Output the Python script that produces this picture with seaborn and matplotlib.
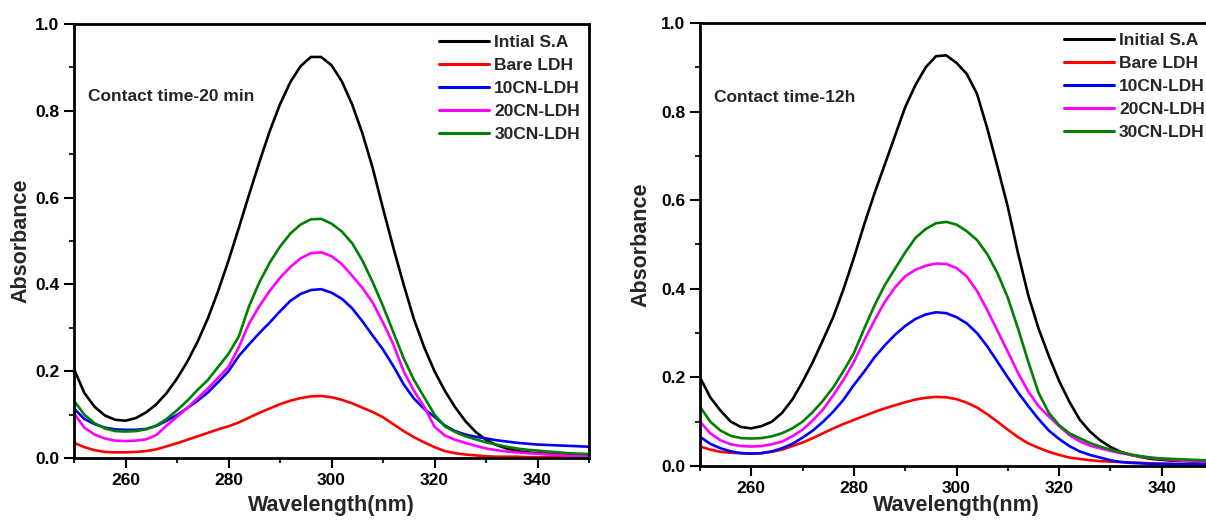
import numpy as np
import pandas as pd
import matplotlib
matplotlib.use("Agg")
import matplotlib.pyplot as plt
from matplotlib.ticker import MultipleLocator, FixedLocator
import seaborn as sns

sns.set_style("ticks")
plt.rcParams['font.family'] = ['Liberation Sans', 'DejaVu Sans']
plt.rcParams['font.weight'] = 'bold'
plt.rcParams['axes.labelweight'] = 'bold'

wavelength = np.arange(250, 352, 2)

# ---- Panel 1: contact time 20 min ----
left_initial = [0.205, 0.150, 0.118, 0.098, 0.088, 0.086, 0.092, 0.105, 0.124, 0.150,
                0.183, 0.222, 0.268, 0.322, 0.385, 0.455, 0.530, 0.607, 0.682, 0.753,
                0.815, 0.866, 0.903, 0.924, 0.924, 0.905, 0.868, 0.815, 0.748, 0.668,
                0.575, 0.485, 0.400, 0.320, 0.255, 0.200, 0.155, 0.117, 0.085, 0.060,
                0.042, 0.030, 0.022, 0.016, 0.013, 0.011, 0.010, 0.009, 0.009, 0.008,
                0.008]
left_bare = [0.035, 0.025, 0.018, 0.014, 0.013, 0.013, 0.014, 0.016, 0.020, 0.027,
             0.034, 0.042, 0.050, 0.058, 0.066, 0.073, 0.082, 0.093, 0.104, 0.114,
             0.124, 0.132, 0.138, 0.142, 0.143, 0.140, 0.134, 0.126, 0.116, 0.106,
             0.094, 0.078, 0.062, 0.048, 0.036, 0.025, 0.016, 0.011, 0.008, 0.006,
             0.004, 0.003, 0.003, 0.003, 0.002, 0.002, 0.002, 0.002, 0.002, 0.002,
             0.002]
left_10cn = [0.114, 0.090, 0.078, 0.070, 0.066, 0.065, 0.065, 0.067, 0.074, 0.086,
             0.099, 0.115, 0.132, 0.151, 0.175, 0.200, 0.235, 0.262, 0.288, 0.312,
             0.338, 0.362, 0.378, 0.387, 0.389, 0.381, 0.367, 0.345, 0.315, 0.282,
             0.250, 0.212, 0.170, 0.137, 0.113, 0.095, 0.075, 0.062, 0.054, 0.049,
             0.045, 0.041, 0.038, 0.035, 0.033, 0.031, 0.030, 0.029, 0.028, 0.027,
             0.026]
left_20cn = [0.103, 0.070, 0.054, 0.045, 0.040, 0.039, 0.040, 0.043, 0.053, 0.075,
             0.095, 0.115, 0.138, 0.160, 0.185, 0.210, 0.255, 0.310, 0.350, 0.385,
             0.415, 0.440, 0.460, 0.472, 0.474, 0.465, 0.447, 0.420, 0.392, 0.358,
             0.312, 0.262, 0.200, 0.155, 0.118, 0.072, 0.052, 0.042, 0.035, 0.028,
             0.022, 0.018, 0.015, 0.013, 0.011, 0.010, 0.008, 0.007, 0.005, 0.004,
             0.003]
left_30cn = [0.132, 0.100, 0.080, 0.068, 0.062, 0.061, 0.062, 0.066, 0.075, 0.090,
             0.110, 0.132, 0.157, 0.180, 0.210, 0.240, 0.280, 0.350, 0.405, 0.450,
             0.487, 0.517, 0.538, 0.550, 0.551, 0.540, 0.522, 0.495, 0.455, 0.405,
             0.350, 0.290, 0.230, 0.180, 0.140, 0.100, 0.073, 0.060, 0.050, 0.043,
             0.036, 0.031, 0.026, 0.022, 0.019, 0.017, 0.015, 0.013, 0.011, 0.010,
             0.009]

# ---- Panel 2: contact time 12 h ----
right_initial = [0.200, 0.155, 0.125, 0.100, 0.088, 0.085, 0.090, 0.100, 0.120, 0.150,
                 0.190, 0.235, 0.285, 0.337, 0.400, 0.470, 0.545, 0.615, 0.680, 0.745,
                 0.810, 0.860, 0.900, 0.925, 0.927, 0.910, 0.885, 0.840, 0.762, 0.675,
                 0.585, 0.480, 0.385, 0.310, 0.248, 0.192, 0.145, 0.105, 0.078, 0.058,
                 0.043, 0.032, 0.025, 0.020, 0.016, 0.014, 0.012, 0.011, 0.010, 0.010,
                 0.009]
right_bare = [0.044, 0.037, 0.032, 0.030, 0.029, 0.028, 0.029, 0.032, 0.037, 0.045,
              0.053, 0.063, 0.074, 0.085, 0.095, 0.104, 0.113, 0.122, 0.130, 0.137,
              0.144, 0.150, 0.154, 0.156, 0.155, 0.151, 0.143, 0.132, 0.117, 0.100,
              0.082, 0.065, 0.051, 0.041, 0.032, 0.025, 0.019, 0.016, 0.013, 0.011,
              0.010, 0.009, 0.008, 0.007, 0.006, 0.005, 0.005, 0.004, 0.004, 0.004,
              0.004]
right_10cn = [0.066, 0.050, 0.040, 0.033, 0.029, 0.028, 0.029, 0.033, 0.040, 0.050,
              0.064, 0.080, 0.100, 0.123, 0.150, 0.183, 0.213, 0.245, 0.272, 0.296,
              0.316, 0.332, 0.342, 0.347, 0.345, 0.336, 0.322, 0.300, 0.270, 0.235,
              0.200, 0.166, 0.135, 0.106, 0.080, 0.061, 0.045, 0.033, 0.025, 0.019,
              0.013, 0.009, 0.007, 0.006, 0.005, 0.005, 0.004, 0.004, 0.004, 0.004,
              0.004]
right_20cn = [0.100, 0.074, 0.058, 0.049, 0.045, 0.044, 0.045, 0.049, 0.055, 0.067,
              0.082, 0.103, 0.128, 0.160, 0.195, 0.235, 0.283, 0.328, 0.370, 0.403,
              0.428, 0.443, 0.452, 0.457, 0.456, 0.447, 0.428, 0.395, 0.352, 0.305,
              0.258, 0.210, 0.168, 0.135, 0.112, 0.090, 0.070, 0.056, 0.046, 0.040,
              0.034, 0.029, 0.025, 0.021, 0.018, 0.016, 0.014, 0.012, 0.011, 0.010,
              0.010]
right_30cn = [0.134, 0.100, 0.080, 0.068, 0.063, 0.062, 0.063, 0.067, 0.074, 0.085,
              0.100, 0.122, 0.148, 0.178, 0.215, 0.255, 0.310, 0.362, 0.408, 0.445,
              0.482, 0.515, 0.535, 0.548, 0.551, 0.545, 0.530, 0.510, 0.478, 0.435,
              0.380, 0.310, 0.235, 0.165, 0.120, 0.092, 0.074, 0.063, 0.052, 0.044,
              0.037, 0.031, 0.026, 0.022, 0.019, 0.017, 0.016, 0.015, 0.014, 0.013,
              0.013]

left_labels = ["Intial S.A", "Bare LDH", "10CN-LDH", "20CN-LDH", "30CN-LDH"]
right_labels = ["Initial S.A", "Bare LDH", "10CN-LDH", "20CN-LDH", "30CN-LDH"]
colors = ["#000000", "#FF0000", "#0000FF", "#FF00FF", "#007F00"]

x_major = [260, 280, 300, 320, 340]
x_minor = [250, 270, 290, 310, 330, 350]

fig = plt.figure(figsize=(12.06, 5.22), dpi=100)
ax1 = fig.add_axes([74/1206, 64/522, 515/1206, 434/522])
ax2 = fig.add_axes([700/1206, 56/522, 513/1206, 443/522])

panels = [
    (ax1, [left_initial, left_bare, left_10cn, left_20cn, left_30cn], left_labels,
     "Contact time-20 min", 0.709, 0.975, (-0.082, -0.085)),
    (ax2, [right_initial, right_bare, right_10cn, right_20cn, right_30cn], right_labels,
     "Contact time-12h", 0.7096, 0.978, (-0.094, -0.065)),
]

for ax, series, labels, note, lx, ly, (ylc, xlc) in panels:
    frames = []
    for vals, lab in zip(series, labels):
        frames.append(pd.DataFrame({"Wavelength": wavelength, "Absorbance": vals, "Sample": lab}))
    df = pd.concat(frames, ignore_index=True)
    sns.lineplot(data=df, x="Wavelength", y="Absorbance", hue="Sample",
                 hue_order=labels, palette=dict(zip(labels, colors)),
                 estimator=None, linewidth=1.9, ax=ax)
    ax.set_xlim(250, 350)
    ax.set_ylim(0, 1.0)
    ax.xaxis.set_major_locator(FixedLocator(x_major))
    ax.xaxis.set_minor_locator(FixedLocator(x_minor))
    ax.yaxis.set_major_locator(MultipleLocator(0.2))
    ax.yaxis.set_minor_locator(MultipleLocator(0.1))
    ax.set_yticks([0.0, 0.2, 0.4, 0.6, 0.8, 1.0])
    ax.set_yticklabels(["0.0", "0.2", "0.4", "0.6", "0.8", "1.0"])
    for s in ax.spines.values():
        s.set_visible(True)
        s.set_linewidth(2.0)
        s.set_color("black")
    ax.tick_params(which="major", direction="out", length=7, width=1.5,
                   labelsize=12.5, pad=3.5, colors="black")
    ax.tick_params(which="minor", direction="out", length=3.5, width=1.5)
    for lbl in ax.get_xticklabels() + ax.get_yticklabels():
        lbl.set_fontweight("bold")
    ax.set_xlabel("Wavelength(nm)", fontsize=15.5, fontweight="bold")
    ax.set_ylabel("Absorbance", fontsize=15.5, fontweight="bold")
    ax.yaxis.set_label_coords(ylc, 0.5)
    ax.xaxis.set_label_coords(0.5, xlc)
    ax.xaxis.label.set_va("top")
    ax.text(0.028, 0.832, note, transform=ax.transAxes, fontsize=12.5,
            fontweight="bold", ha="left", va="center")
    leg = ax.legend(loc="upper left", bbox_to_anchor=(lx, ly), frameon=False,
                    fontsize=12.5, borderpad=0, borderaxespad=0,
                    handlelength=2.87, handletextpad=0.3, labelspacing=0.45)
    for t in leg.get_texts():
        t.set_fontweight("bold")
    for h in leg.get_lines():
        h.set_linewidth(2.2)

fig.savefig("out.png", dpi=100)
